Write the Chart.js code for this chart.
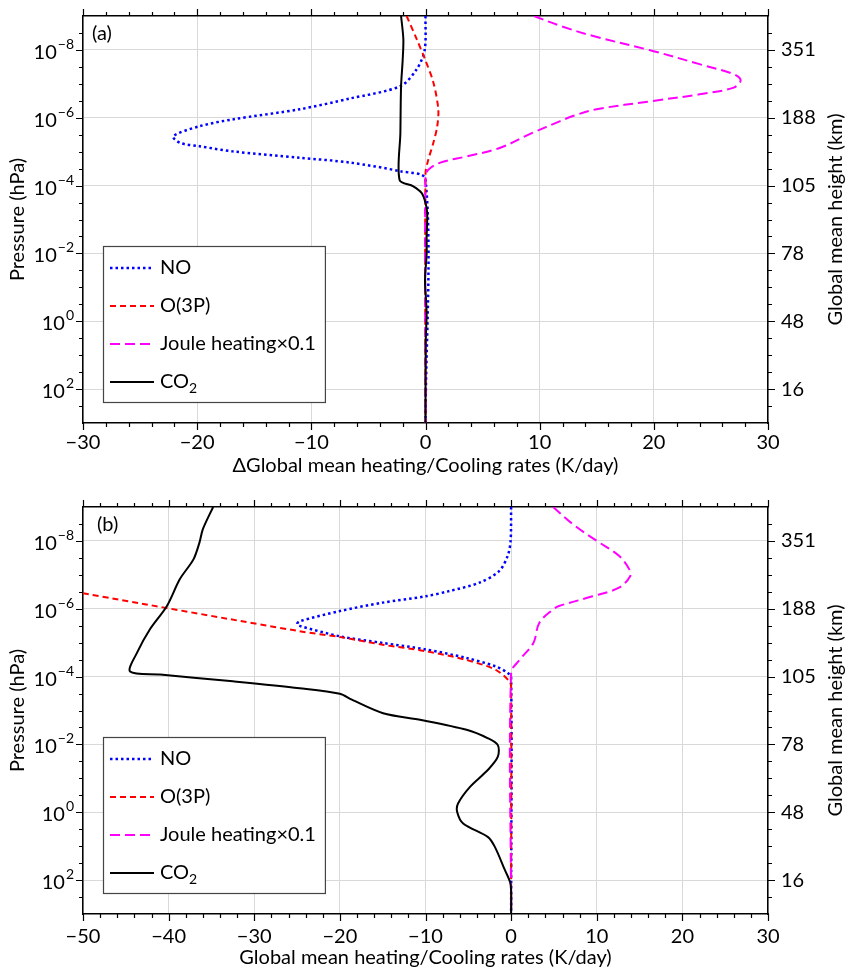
<!DOCTYPE html>
<html><head><meta charset="utf-8">
<script src="https://cdn.jsdelivr.net/npm/chart.js@4.4.1/dist/chart.umd.min.js"></script>
<style>
html,body{margin:0;padding:0;background:#fff;overflow:hidden;}
#wa{position:absolute;left:0;top:0;}
#wb{position:absolute;left:0;top:491px;}
</style></head><body>
<div id="wa"><canvas id="ca" width="845" height="491"></canvas></div>
<div id="wb"><canvas id="cb" width="845" height="481"></canvas></div>
<script>
// ---------- shared axis data ----------
const pressureTicks = [1e-8, 1e-6, 1e-4, 1e-2, 1e0, 1e2];
const heightLabels = ['351', '188', '105', '78', '48', '16'];
const seriesNames = ['NO', 'O(3P)', 'Joule heating×0.1', 'CO₂'];
const xTicksA = [-30, -20, -10, 0, 10, 20, 30];
const xTicksB = [-50, -40, -30, -20, -10, 0, 10, 20, 30];

// ---------- panel (a): pressure (hPa) and Δ rates (K/day) ----------
const aNO_p = [1e-9, 1e-8, 3.7e-8, 1.17e-7, 2.7e-7, 5.6e-7, 1.12e-6, 1.78e-6, 3.5e-6, 5.5e-6, 6.9e-6, 9.8e-6, 1.51e-5, 2.1e-5, 3.8e-5, 6.6e-5, 1e3];
const aNO_v = [0, -0.07, -0.77, -2.2, -6.6, -11.0, -16.9, -19.8, -22.1, -21.5, -19.8, -16.9, -11.0, -6.6, -2.2, 0, 0];
const aO_p = [1e-9, 4.8e-9, 1.9e-8, 9.1e-8, 5.6e-7, 1.78e-6, 5.5e-6, 1.7e-5, 4.3e-5, 1e3];
const aO_v = [-1.65, -0.77, -0.04, 0.69, 1.12, 1.03, 0.69, 0.25, 0, 0];
const aJ_p = [1e-9, 1.95e-9, 3.9e-9, 1.07e-8, 2.63e-8, 5.2e-8, 7.9e-8, 1.29e-7, 2.04e-7, 3.2e-7, 5.6e-7, 8.9e-7, 1.26e-6, 2.75e-6, 7.8e-6, 1.38e-5, 2.1e-5, 3.4e-5, 5.4e-5, 1e3];
const aJ_v = [9.5, 11.8, 14.7, 19.9, 24.0, 27.0, 27.6, 27.0, 24.0, 19.9, 15.0, 12.9, 11.8, 9.4, 6.5, 3.6, 1.3, 0.25, 0, 0];
const aC_p = [1e-9, 4.8e-9, 2.0e-8, 1.17e-7, 2.75e-6, 6.8e-5, 1.05e-4, 1.66e-4, 3.2e-4, 6.5e-4, 3.2e-3, 1e-2, 6.0e-2, 0.25, 0.63, 4.0, 1e3];
const aC_v = [-2.14, -1.94, -2.0, -2.14, -2.2, -2.27, -1.07, -0.33, 0.0, 0.15, 0.1, 0.1, -0.04, 0.05, 0.1, 0.02, 0];

// ---------- panel (b): pressure (hPa) and rates (K/day) ----------
const bNO_p = [1e-9, 1e-8, 2.75e-8, 7.8e-8, 1.7e-7, 3.0e-7, 4.3e-7, 6.6e-7, 1.17e-6, 2.34e-6, 2.8e-6, 3.2e-6, 6.5e-6, 1.02e-5, 1.58e-5, 2.8e-5, 5.0e-5, 7.8e-5, 1.05e-4, 1e3];
const bNO_v = [0, -0.06, -0.4, -1.4, -3.7, -7.2, -10.0, -15.0, -20.0, -24.7, -25.0, -24.7, -20.0, -15.0, -10.0, -5.3, -1.8, -0.4, 0, 0];
const bO_p = [3.5e-7, 4.6e-6, 6.8e-6, 1.15e-5, 1.78e-5, 3.2e-5, 6.3e-5, 1.38e-4, 2.0e-4, 1e3];
const bO_v = [-50, -24.7, -20.0, -15.0, -10.0, -5.3, -1.8, -0.2, 0, 0];
const bJ_p = [1e-9, 3.5e-9, 1e-8, 2.75e-8, 6.9e-8, 1.1e-7, 2.4e-7, 4.3e-7, 8.3e-7, 1.05e-6, 2.57e-6, 1.02e-5, 3.2e-5, 7.8e-5, 1e3];
const bJ_v = [4.9, 7.4, 10.0, 12.6, 13.8, 13.9, 12.6, 9.5, 5.6, 4.9, 3.3, 2.6, 1.0, 0, 0];
const bC_p = [1e-9, 4.5e-9, 1.12e-8, 3.5e-8, 1.35e-7, 8.3e-7, 4.1e-6, 2.0e-5, 7.1e-5, 8.7e-5, 1.38e-4, 2.2e-4, 3.2e-4, 4.8e-4, 1.2e-3, 1.9e-3, 3.7e-3, 6.6e-3, 1.05e-2, 2.3e-2, 5.6e-2, 0.178, 0.55, 0.98, 2.14, 5.4, 10.5, 51, 115, 200, 1000];
const bC_v = [-34.8, -36.0, -36.4, -37.1, -38.7, -40.2, -42.2, -43.7, -44.5, -41.0, -32.5, -24.7, -20.0, -18.6, -14.95, -10.5, -5.2, -2.7, -1.55, -1.55, -2.7, -4.8, -6.2, -6.3, -5.6, -2.7, -1.9, -0.72, -0.12, 0, 0];

// ---------- styling ----------
const FONT = 'Lato, "Open Sans", sans-serif';
const FS = 20;
Chart.defaults.font.family = FONT;
Chart.defaults.font.size = FS;
Chart.defaults.color = '#000';
const STY = [
  {color: '#0000ff', width: 2.5, dash: [2.5, 3], tension: 0.3},
  {color: '#ff0000', width: 2, dash: [6, 4], tension: 0.3},
  {color: '#ff00ff', width: 2, dash: [10, 5], tension: 0.35},
  {color: '#000000', width: 2, dash: [], tension: 0.3}
];
const GRID = '#d9d9d9';
const fmtNum = v => (v < 0 ? '\u2212' + Math.abs(v) : String(v));

// tick marks on all four sides + custom labels
const decor = {
  id: 'decor',
  afterDraw(chart) {
    const o = chart.options.plugins.decor;
    const {ctx, chartArea: ca} = chart;
    const xs = chart.scales.x, ys = chart.scales.y;
    ctx.save();
    ctx.strokeStyle = '#000';
    ctx.lineWidth = 1.2;
    ctx.setLineDash([]);
    ctx.beginPath();
    for (let v = xs.min; v <= xs.max + 1e-6; v += 2) {
      const px = Math.round(xs.getPixelForValue(v)) + 0.5;
      const L = Math.abs(v % 10) < 1e-6 ? 7 : 4;
      ctx.moveTo(px, ca.bottom); ctx.lineTo(px, ca.bottom + L);
      ctx.moveTo(px, ca.top); ctx.lineTo(px, ca.top - L);
    }
    const eMin = Math.log10(ys.min), eMax = Math.log10(ys.max);
    for (let e = eMin + 0.5; e < eMax - 0.01; e += 0.5) {
      const py = Math.round(ys.getPixelForValue(Math.pow(10, e))) + 0.5;
      const L = Math.abs(e % 2) < 1e-6 ? 7 : 4;
      ctx.moveTo(ca.left, py); ctx.lineTo(ca.left - L, py);
      ctx.moveTo(ca.right, py); ctx.lineTo(ca.right + L, py);
    }
    ctx.stroke();

    // left labels: 10^n
    ctx.fillStyle = '#000';
    ctx.textBaseline = 'alphabetic';
    ctx.textAlign = 'left';
    pressureTicks.forEach(p => {
      const e = Math.round(Math.log10(p));
      const es = e < 0 ? '\u2212' + Math.abs(e) : String(e);
      const py = ys.getPixelForValue(p);
      ctx.font = '14px ' + FONT;
      const we = ctx.measureText(es).width;
      ctx.font = FS + 'px ' + FONT;
      const wb = ctx.measureText('10').width;
      const xr = ca.left - 9;
      ctx.fillText('10', xr - we - wb - 1, py + 9);
      ctx.font = '14px ' + FONT;
      ctx.fillText(es, xr - we, py - 1);
    });

    // panel label
    ctx.font = FS + 'px ' + FONT;
    ctx.textBaseline = 'middle';
    ctx.fillText(o.label, o.labelX, ca.top + 18);

    // right title, reading bottom to top
    ctx.translate(chart.width - 9, (ca.top + ca.bottom) / 2);
    ctx.rotate(-Math.PI / 2);
    ctx.textAlign = 'center';
    ctx.fillText('Global mean height (km)', 0, 0);
    ctx.restore();
  }
};

// boxed legend inside the plot area
const boxLegend = {
  id: 'boxLegend',
  afterDatasetsDraw(chart) {
    const {ctx} = chart;
    const rows = [268, 306, 344, 382];
    const boxL = 103, boxT = 246, boxB = 402, lx0 = 110, lx1 = 154, tx = 160;
    ctx.save();
    ctx.font = FS + 'px ' + FONT;
    let maxW = 0;
    seriesNames.forEach(n => { maxW = Math.max(maxW, ctx.measureText(n).width); });
    const boxR = tx + maxW + 9;
    ctx.fillStyle = '#fff';
    ctx.fillRect(boxL, boxT, boxR - boxL, boxB - boxT);
    ctx.strokeStyle = '#444';
    ctx.lineWidth = 1.2;
    ctx.setLineDash([]);
    ctx.strokeRect(boxL + 0.5, boxT + 0.5, boxR - boxL, boxB - boxT);
    chart.data.datasets.forEach((ds, i) => {
      const y = rows[i];
      ctx.beginPath();
      ctx.setLineDash(ds.borderDash || []);
      ctx.strokeStyle = ds.borderColor;
      ctx.lineWidth = ds.borderWidth;
      ctx.moveTo(lx0, y); ctx.lineTo(lx1, y);
      ctx.stroke();
      ctx.fillStyle = '#000';
      ctx.textBaseline = 'middle';
      ctx.textAlign = 'left';
      const label = ds.label;
      if (label.indexOf('₂') >= 0) {
        const base = label.replace('₂', '');
        ctx.font = FS + 'px ' + FONT;
        ctx.fillText(base, tx, y);
        const w = ctx.measureText(base).width;
        ctx.font = '14px ' + FONT;
        ctx.fillText('2', tx + w, y + 6);
      } else {
        ctx.font = FS + 'px ' + FONT;
        ctx.fillText(label, tx, y);
      }
    });
    ctx.restore();
  }
};

function makePanel(id, cfg) {
  const canvas = document.getElementById(id);
  const H = canvas.height;
  const datasets = cfg.series.map((s, i) => ({
    label: seriesNames[i],
    data: s.p.map((p, k) => ({x: s.v[k], y: p})),
    showLine: true,
    pointRadius: 0,
    pointHoverRadius: 0,
    borderColor: STY[i].color,
    backgroundColor: STY[i].color,
    borderWidth: STY[i].width,
    borderDash: STY[i].dash,
    tension: STY[i].tension,
    fill: false,
    order: 4 - i
  }));
  const xMin = cfg.xTicks[0], xMax = cfg.xTicks[cfg.xTicks.length - 1];
  const noPad = sc => { sc.paddingTop = 0; sc.paddingBottom = 0; sc.paddingLeft = 0; sc.paddingRight = 0; };
  return new Chart(canvas, {
    type: 'scatter',
    data: {datasets},
    options: {
      responsive: false,
      animation: false,
      events: [],
      layout: {padding: 0},
      plugins: {
        legend: {display: false},
        tooltip: {enabled: false},
        decor: {label: cfg.label, labelX: cfg.labelX}
      },
      scales: {
        x: {
          type: 'linear', position: 'bottom', min: xMin, max: xMax,
          afterBuildTicks: sc => { sc.ticks = cfg.xTicks.map(v => ({value: v})); },
          afterFit: sc => { sc.height = H - 423; noPad(sc); },
          ticks: {callback: v => fmtNum(v), padding: cfg.tickPad, maxRotation: 0, autoSkip: false},
          grid: {color: GRID, lineWidth: 1, drawTicks: false},
          border: {display: true, color: '#000', width: 1.5},
          title: {display: true, text: cfg.xTitle, padding: {top: 0, bottom: cfg.titlePad}}
        },
        x2: {
          type: 'linear', position: 'top', min: xMin, max: xMax,
          afterFit: sc => { sc.height = 16; noPad(sc); },
          ticks: {display: false},
          grid: {display: false, drawTicks: false},
          border: {display: true, color: '#000', width: 1.5}
        },
        y: {
          type: 'logarithmic', position: 'left', reverse: true, min: 1e-9, max: 1e3,
          afterBuildTicks: sc => { sc.ticks = pressureTicks.map(v => ({value: v})); },
          afterFit: sc => { sc.width = 83; noPad(sc); },
          ticks: {display: false},
          grid: {color: GRID, lineWidth: 1, drawTicks: false},
          border: {display: true, color: '#000', width: 1.5},
          title: {display: true, text: 'Pressure (hPa)', padding: {top: 6, bottom: 0}}
        },
        y2: {
          type: 'logarithmic', position: 'right', reverse: true, min: 1e-9, max: 1e3,
          afterBuildTicks: sc => { sc.ticks = pressureTicks.map(v => ({value: v})); },
          afterFit: sc => { sc.width = 77; noPad(sc); },
          ticks: {callback: (v, i) => heightLabels[i], padding: 13, autoSkip: false},
          grid: {display: false, drawTicks: false},
          border: {display: true, color: '#000', width: 1.5}
        }
      }
    },
    plugins: [boxLegend, decor]
  });
}

makePanel('ca', {
  xTicks: xTicksA, label: '(a)', labelX: 92, tickPad: 8, titlePad: 13,
  xTitle: '\u0394Global mean heating/Cooling rates (K/day)',
  series: [{p: aNO_p, v: aNO_v}, {p: aO_p, v: aO_v}, {p: aJ_p, v: aJ_v}, {p: aC_p, v: aC_v}]
});
makePanel('cb', {
  xTicks: xTicksB, label: '(b)', labelX: 97, tickPad: 11, titlePad: 2,
  xTitle: 'Global mean heating/Cooling rates (K/day)',
  series: [{p: bNO_p, v: bNO_v}, {p: bO_p, v: bO_v}, {p: bJ_p, v: bJ_v}, {p: bC_p, v: bC_v}]
});
</script>
</body></html>
